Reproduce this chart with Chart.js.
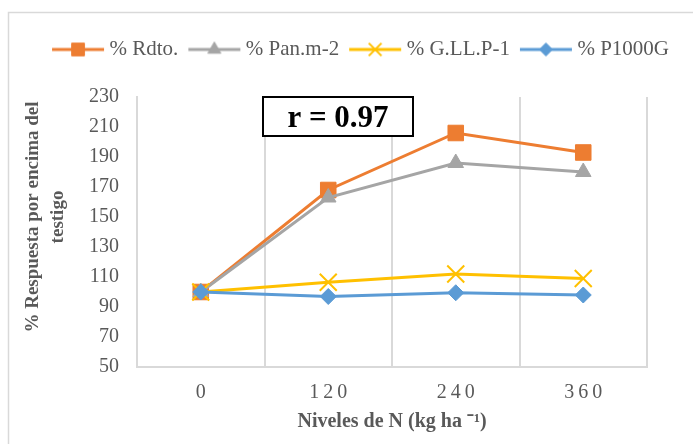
<!DOCTYPE html>
<html>
<head>
<meta charset="utf-8">
<script src="https://cdn.jsdelivr.net/npm/chart.js@4.4.1/dist/chart.umd.min.js"></script>
<style>
  html, body { margin: 0; padding: 0; background: #fff; }
  #wrap { width: 693px; height: 444px; }
</style>
</head>
<body>
<div id="wrap"><canvas id="grafico"></canvas></div>
<script>
// datos
const niveles = ['0', '120', '240', '360'];
const rdto = [100, 168, 206, 193];
const panicula = [100, 163, 186, 180];
const granos = [100, 106.5, 112, 109];
const pesoMil = [100, 97, 99.5, 98];
const ejeY = { min: 50, max: 230, paso: 20 };
const nombres = ['% Rdto.', '% Pan.m-2', '% G.LL.P-1', '% P1000G'];
const colores = ['#ED7D31', '#A5A5A5', '#FFC000', '#5B9BD5'];

const FUENTE = "'Liberation Serif', 'Times New Roman', serif";
const GRIS = '#595959';

// icono de leyenda: linea con marcador en el medio
function iconoLeyenda(color, estilo, radio) {
    const c = document.createElement('canvas');
    c.width = 54; c.height = 20;
    const ctx = c.getContext('2d');
    ctx.strokeStyle = color;
    ctx.lineWidth = 3;
    ctx.beginPath();
    ctx.moveTo(1, 10); ctx.lineTo(53, 10);
    ctx.stroke();
    ctx.fillStyle = color;
    ctx.lineWidth = estilo === 'crossRot' ? 2 : 1;
    Chart.helpers.drawPoint(ctx, { pointStyle: estilo, radius: radio, rotation: 0, borderWidth: ctx.lineWidth }, 27, 10);
    return c;
}

const iconos = [
    iconoLeyenda(colores[0], 'rect', 9),
    iconoLeyenda(colores[1], 'triangle', 7.5),
    iconoLeyenda(colores[2], 'crossRot', 9),
    iconoLeyenda(colores[3], 'rectRot', 6.5)
];

// marco gris, titulo del eje Y, recuadro r = 0.97 y espaciado de las etiquetas X
const extras = {
    id: 'extras',
    beforeInit(chart) {
        const fitOriginal = chart.legend.fit;
        chart.legend.fit = function () {
            fitOriginal.call(this);
            this.height = 73;
        };
    },
    afterLayout(chart) {
        const sx = chart.scales.x;
        if (sx && !sx._espaciado) {
            const dibujar = sx.drawLabels;
            sx.drawLabels = function (area) {
                this.ctx.save();
                this.ctx.letterSpacing = '4px';
                dibujar.call(this, area);
                this.ctx.restore();
            };
            sx._espaciado = true;
        }
    },
    beforeDraw(chart) {
        const ctx = chart.ctx;
        ctx.save();
        ctx.fillStyle = '#fff';
        ctx.fillRect(0, 0, chart.width, chart.height);
        ctx.strokeStyle = '#D9D9D9';
        ctx.lineWidth = 1.5;
        ctx.beginPath();
        ctx.moveTo(8.5, chart.height);
        ctx.lineTo(8.5, 12.5);
        ctx.lineTo(chart.width, 12.5);
        ctx.stroke();
        ctx.restore();
    },
    afterDraw(chart) {
        const ctx = chart.ctx;
        const a = chart.chartArea;
        ctx.save();
        // titulo eje Y (dos lineas)
        ctx.fillStyle = GRIS;
        ctx.font = 'bold 19px ' + FUENTE;
        ctx.textAlign = 'center';
        ctx.textBaseline = 'middle';
        const cy = 217;
        ctx.save();
        ctx.translate(33, cy);
        ctx.rotate(-Math.PI / 2);
        ctx.fillText('% Respuesta por encima del', 0, 0);
        ctx.restore();
        ctx.save();
        ctx.translate(58, cy);
        ctx.rotate(-Math.PI / 2);
        ctx.fillText('testigo', 0, 0);
        ctx.restore();

        // recuadro r
        const bx = a.left + 126, by = a.top, bw = 150, bh = 39;
        ctx.fillStyle = '#fff';
        ctx.fillRect(bx, by, bw, bh);
        ctx.strokeStyle = '#000';
        ctx.lineWidth = 2;
        ctx.strokeRect(bx, by, bw, bh);
        ctx.fillStyle = '#000';
        ctx.font = 'bold 31px ' + FUENTE;
        ctx.fillText('r = 0.97', bx + bw / 2, by + bh / 2 + 2);
        ctx.restore();
    }
};

function serie(i, datos, estilo, radio, orden) {
    return {
        label: nombres[i],
        data: datos,
        borderColor: colores[i],
        backgroundColor: colores[i],
        borderWidth: 3,
        pointStyle: estilo,
        pointRadius: radio,
        pointHoverRadius: radio,
        pointBorderWidth: estilo === 'crossRot' ? 2 : 1,
        pointBackgroundColor: colores[i],
        pointBorderColor: colores[i],
        tension: 0,
        order: orden
    };
}

new Chart(document.getElementById('grafico'), {
    type: 'line',
    data: {
        labels: niveles,
        datasets: [
            serie(0, rdto, 'rect', 11, 4),
            serie(1, panicula, 'triangle', 9, 3),
            serie(2, granos, 'crossRot', 12, 2),
            serie(3, pesoMil, 'rectRot', 8, 1)
        ]
    },
    options: {
        responsive: true,
        maintainAspectRatio: false,
        animation: false,
        events: [],
        layout: { padding: { top: 24, left: 33, right: 0, bottom: 0 } },
        plugins: {
            tooltip: { enabled: false },
            legend: {
                position: 'top',
                labels: {
                    usePointStyle: true,
                    pointStyleWidth: 42,
                    padding: 15,
                    color: GRIS,
                    font: { family: FUENTE, size: 21 },
                    generateLabels(chart) {
                        return chart.data.datasets.map((d, i) => ({
                            text: d.label,
                            fillStyle: d.borderColor,
                            strokeStyle: d.borderColor,
                            fontColor: GRIS,
                            lineWidth: 0,
                            pointStyle: iconos[i],
                            hidden: false,
                            datasetIndex: i
                        }));
                    }
                }
            }
        },
        scales: {
            x: {
                offset: true,
                grid: { display: true, offset: true, color: '#D9D9D9', lineWidth: 2, drawTicks: false },
                border: { display: true, color: '#D9D9D9', width: 2 },
                ticks: { color: GRIS, font: { family: FUENTE, size: 20 }, padding: 14, labelOffset: 2 },
                title: {
                    display: true,
                    text: 'Niveles de N (kg ha \u207B\u00B9)',
                    color: GRIS,
                    font: { family: FUENTE, size: 20, weight: 'bold' },
                    padding: { top: 4, bottom: 10 }
                },
                afterFit(s) { s.height = 77; }
            },
            y: {
                min: ejeY.min,
                max: ejeY.max,
                grid: { display: false, drawTicks: false },
                border: { display: true, color: '#D9D9D9', width: 2 },
                ticks: { stepSize: ejeY.paso, color: GRIS, font: { family: FUENTE, size: 20 }, padding: 18 },
                afterFit(s) { s.width = 104; }
            },
            margenDer: {
                position: 'right',
                display: true,
                min: 0,
                max: 1,
                grid: { display: false, drawTicks: false },
                border: { display: false },
                ticks: { display: false },
                afterFit(s) { s.width = 46; }
            }
        }
    },
    plugins: [extras]
});
</script>
</body>
</html>
